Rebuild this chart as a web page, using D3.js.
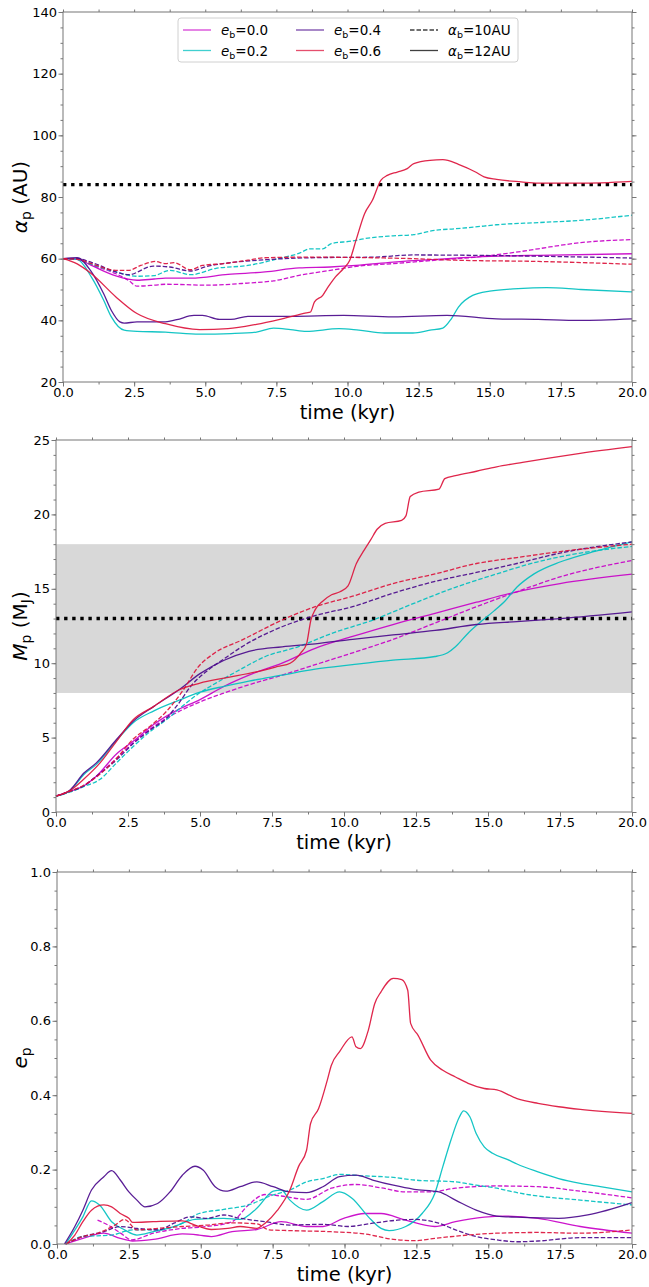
<!DOCTYPE html>
<html>
<head>
<meta charset="utf-8">
<title>Planet evolution</title>
<script src="https://cdnjs.cloudflare.com/ajax/libs/d3/7.8.5/d3.min.js"></script>
<style>
  body { margin: 0; background: #fff; }
  text { font-family: "DejaVu Sans", sans-serif; fill: #000; }
</style>
</head>
<body>
<script>
// eccentricities of the binary and binary separations
const eccLabels = ["0.0", "0.2", "0.4", "0.6"];
const eccColors = ["#c800c8", "#00c0c0", "#4b0a8c", "#dc143c"];
const sepLabels = ["10AU", "12AU"];

const xTicks = [0, 2.5, 5, 7.5, 10, 12.5, 15, 17.5, 20];

// ---- semi-major axis a_p (AU), [time kyr, value] ----
const a_00_12 = [[0,60],[0.5,59.8],[1,57.8],[1.86,54.4],[2.6,53],[3.2,53.4],[3.6,53.7],[4.5,53.7],[5.8,54.9],[7.1,55.7],[8.3,57],[9.4,57.3],[10.3,57.8],[11.6,58.9],[13.1,59.8],[14.5,60.5],[16.7,61.1],[20,61.6]];
const a_00_10 = [[0,60],[0.5,59.8],[1,58],[1.86,55.1],[2.3,53],[2.6,51.1],[3.2,51.4],[3.6,51.7],[5.1,51.4],[6.5,52.1],[7.4,52.8],[8.3,54.6],[9.4,56.2],[10.4,57.6],[11.6,58.4],[13.1,59.5],[14.5,60.5],[16,62.2],[16.7,63.2],[18.2,65.2],[20,66.2]];
const a_02_12 = [[0,60],[0.5,59.8],[1,54],[1.43,46.5],[1.7,41.1],[2.15,36.8],[2.6,36.4],[3.6,36.2],[4.8,35.5],[5.9,35.7],[6.8,36.2],[7.4,37.5],[8,37],[8.55,36.4],[9.7,37.3],[10.4,36.8],[11.3,35.9],[12.3,35.9],[12.9,36.8],[13.35,37.5],[13.65,40.5],[13.9,44.3],[14.4,48.1],[15,49.5],[16,50.3],[17,50.6],[18.2,50],[20,49.2]];
const a_02_10 = [[0,60],[0.5,59.8],[1,58.2],[1.86,55.7],[2.6,54.3],[3.2,54.5],[3.75,56.2],[4.5,54.8],[5.35,56.8],[6.5,57.8],[7.7,60.3],[8.26,61.6],[8.7,63.2],[9.13,63.2],[9.43,64.9],[10.15,65.7],[10.6,66.5],[11.6,67.4],[12.33,67.8],[13.06,69.2],[13.8,69.7],[14.5,70.3],[15.24,71],[16.7,71.7],[18.15,72.4],[20,74.1]];
const a_04_12 = [[0,60],[0.5,60.3],[1,55.7],[1.43,48.6],[1.7,43.2],[2,39.5],[2.15,39.1],[2.6,39.5],[3.6,39.5],[4,40.2],[4.6,41.6],[4.9,41.6],[5.5,40.3],[5.9,40.3],[6.5,41.3],[8,41.3],[9.86,41.6],[11.6,41.1],[13.5,41.6],[15.24,40.5],[16.7,40.3],[18.15,40],[20,40.5]];
const a_04_10 = [[0,60],[0.5,60],[1,58.8],[1.86,55.7],[2.3,54.8],[3.17,57.6],[3.75,57.3],[4.48,56],[5.06,57.5],[5.8,58.6],[7.2,59.7],[8.7,60.3],[10.9,60.5],[12.3,61.2],[15.2,61],[20,60.2]];
const a_06_12 = [[0,60],[0.5,58.3],[1,55.1],[1.86,47.6],[2.6,42.2],[3.6,38.9],[4.8,37],[5.8,37.3],[6.8,38.7],[7.7,40.5],[8.55,42.4],[8.7,42.7],[8.84,46],[9.13,48.1],[9.28,50.3],[9.4,51.9],[9.57,54],[9.86,56.8],[10.08,59.5],[10.3,66],[10.6,74.6],[10.88,79],[11.17,85.4],[11.4,87],[11.75,88.1],[12.1,89.2],[12.33,90.8],[12.9,91.9],[13.35,92.1],[13.9,90.6],[14.5,88.1],[14.8,86.5],[15.24,85.7],[16.1,84.9],[16.7,84.5],[18.15,84.5],[20,85.1]];
const a_06_10 = [[0,60],[0.5,59.8],[1,58.4],[1.86,56.2],[2.3,56.2],[2.73,57.8],[3.24,59.1],[3.6,58.4],[3.9,58.7],[4.48,56.4],[4.9,57.8],[5.64,58.4],[6.5,59.5],[7.1,60.3],[8.7,60.5],[10.9,60.3],[12.3,60],[13.8,59.5],[16.7,59.1],[20,58.2]];

// ---- planet mass M_p (M_J) ----
const m_00_12 = [[0,1.07],[0.5,1.4],[0.96,1.75],[1.4,2.4],[2.1,3.9],[2.68,4.75],[3.4,5.9],[4.26,6.9],[5,7.55],[5.84,8.45],[6.7,9.2],[7.85,10],[9,11],[10.3,11.8],[11.7,12.6],[13.16,13.35],[14.6,14.1],[16,14.8],[17.5,15.35],[20,15.98]];
const m_00_10 = [[0,1.07],[0.5,1.4],[0.96,1.75],[1.4,2.4],[2.1,3.6],[2.68,4.65],[3.4,5.75],[4.26,6.75],[5,7.4],[5.84,8],[6.7,8.55],[7.85,9.2],[9,9.9],[10.3,10.7],[11.7,11.6],[13.16,12.7],[14.6,13.8],[16,14.8],[17.5,15.8],[20,16.9]];
const m_02_12 = [[0,1.07],[0.5,1.45],[0.96,2.5],[1.4,3.2],[2.1,4.8],[2.68,6],[3.4,6.8],[4.26,7.5],[5,8.05],[5.84,8.45],[6.7,8.8],[7.85,9.2],[9,9.6],[10.3,9.9],[11.7,10.2],[13.16,10.45],[13.6,10.7],[13.87,11.1],[14.3,12],[14.7,12.7],[15.2,13.5],[15.6,14.2],[16,15.1],[16.6,16],[17.5,16.8],[18.5,17.4],[20,18.15]];
const m_02_10 = [[0,1.07],[0.5,1.35],[0.96,1.7],[1.53,2.2],[2.1,3.3],[2.68,4.4],[3.26,5.4],[3.83,6.2],[4.26,6.9],[4.84,7.8],[5.55,8.66],[6.27,9.44],[7.27,10.45],[8.4,11.1],[9.57,12],[11,12.9],[12.4,14],[13.87,15.1],[15.3,16],[16.7,16.8],[18.2,17.4],[20,17.85]];
const m_04_12 = [[0,1.07],[0.5,1.5],[0.96,2.6],[1.4,3.3],[2.1,4.87],[2.68,6.1],[3.4,7.1],[4.26,8.2],[5,9.3],[5.84,10.2],[6.7,10.8],[7.85,11.1],[9,11.3],[10.3,11.6],[11.7,11.9],[13.16,12.2],[14.6,12.6],[16,12.8],[17.5,13],[20,13.45]];
const m_04_10 = [[0,1.07],[0.5,1.4],[0.96,1.75],[1.4,2.4],[2.1,3.5],[2.68,4.6],[3.26,5.5],[3.83,6.3],[4.26,7.3],[4.7,8.5],[5.26,9.5],[5.84,10.3],[6.45,11.1],[7.85,12.45],[9,13.2],[10.3,13.8],[11.7,14.7],[13.16,15.5],[14.6,16.1],[16,16.7],[17.5,17.4],[20,18.15]];
const m_06_12 = [[0,1.07],[0.53,1.5],[0.96,2.2],[1.53,3.3],[2.1,4.75],[2.68,6.2],[3.4,7.1],[4.26,8.2],[5,8.66],[5.84,9],[7,9.44],[7.7,9.78],[8.13,10],[8.5,10.7],[8.7,11.3],[8.85,12.9],[9,13.6],[9.28,14.2],[9.57,14.6],[9.86,14.8],[10.14,15.2],[10.43,16.7],[10.7,17.6],[10.93,18.3],[11.15,19],[11.43,19.4],[12,19.6],[12.15,19.9],[12.3,21.2],[12.6,21.5],[13.3,21.7],[13.5,22.4],[13.87,22.6],[14.6,22.9],[15.3,23.2],[16.2,23.5],[17.17,23.8],[18.2,24.1],[20,24.55]];
const m_06_10 = [[0,1.07],[0.5,1.4],[0.96,1.8],[1.5,2.5],[2.1,3.6],[2.68,4.9],[3.26,5.75],[3.83,6.75],[4.42,8.2],[4.94,9.75],[5.52,10.7],[6.45,11.55],[7.85,12.9],[9,13.8],[10.3,14.5],[11.7,15.35],[13.16,16],[14.6,16.7],[16,17.1],[17.5,17.5],[20,18]];

// ---- planet eccentricity e_p ----
const e_00_12 = [[0.3,0],[0.9,0.015],[1.63,0.029],[2.2,0.015],[2.63,0.008],[3.35,0.0125],[4.36,0.027],[4.94,0.024],[5.37,0.02],[6.09,0.033],[6.95,0.039],[7.8,0.06],[8.68,0.047],[9.25,0.047],[9.97,0.069],[10.7,0.082],[11.27,0.082],[12.13,0.064],[13.14,0.047],[13.86,0.06],[14.86,0.072],[15.58,0.075],[16.73,0.069],[18.2,0.047],[20,0.029]];
const e_00_10 = [[1.41,0.064],[1.8,0.05],[2.2,0.03],[2.6,0.011],[3.35,0.029],[4.36,0.042],[5.22,0.047],[6.09,0.06],[6.66,0.105],[7.24,0.133],[7.8,0.129],[8.68,0.12],[9.54,0.15],[10.4,0.16],[11.27,0.151],[12.13,0.14],[13,0.14],[13.86,0.15],[15.3,0.156],[16.73,0.154],[18.2,0.142],[20,0.124]];
const e_02_12 = [[0.3,0],[0.9,0.073],[1.2,0.116],[1.48,0.105],[1.9,0.06],[2.35,0.038],[2.78,0.024],[3.35,0.033],[4.07,0.047],[4.8,0.066],[5.8,0.069],[6.37,0.066],[6.95,0.096],[7.52,0.142],[7.8,0.145],[8.1,0.118],[8.68,0.091],[9.25,0.114],[9.83,0.14],[10.26,0.123],[10.83,0.073],[11.27,0.042],[11.55,0.036],[12.13,0.047],[12.7,0.082],[13.14,0.136],[13.42,0.208],[13.7,0.279],[14,0.342],[14.14,0.358],[14.36,0.342],[14.58,0.297],[14.86,0.261],[15.15,0.244],[15.7,0.226],[16,0.215],[16.73,0.194],[17.45,0.176],[18.2,0.163],[18.9,0.154],[20,0.14]];
const e_02_10 = [[0.3,0],[0.9,0.02],[1.9,0.024],[2.63,0.038],[3.5,0.038],[4.36,0.056],[4.94,0.082],[5.8,0.093],[6.66,0.105],[7.52,0.132],[8.1,0.145],[8.68,0.167],[9.25,0.176],[9.83,0.187],[10.7,0.183],[11.7,0.179],[12.42,0.172],[13.86,0.167],[14.58,0.158],[15.3,0.15],[16,0.138],[16.73,0.129],[18.2,0.118],[20,0.105]];
const e_04_12 = [[0.26,0],[0.62,0.047],[0.9,0.091],[1.2,0.145],[1.63,0.181],[1.9,0.197],[2.2,0.172],[2.5,0.14],[2.78,0.118],[3.06,0.1],[3.5,0.109],[3.93,0.14],[4.36,0.185],[4.8,0.209],[5.08,0.199],[5.5,0.154],[5.87,0.142],[6.37,0.154],[6.95,0.167],[7.52,0.154],[8.1,0.14],[8.68,0.138],[9.25,0.154],[9.83,0.181],[10.4,0.185],[10.98,0.172],[11.7,0.158],[12.42,0.147],[13.28,0.14],[13.86,0.118],[14.58,0.091],[15.3,0.075],[16,0.072],[17.45,0.069],[18.46,0.078],[20,0.111]];
const e_04_10 = [[0.3,0],[0.9,0.02],[1.63,0.033],[2.2,0.047],[2.78,0.042],[3.5,0.038],[4.07,0.056],[4.65,0.073],[5.22,0.069],[5.8,0.078],[6.37,0.069],[7.24,0.06],[8.1,0.051],[9.25,0.053],[10.12,0.047],[10.98,0.056],[11.84,0.064],[12.42,0.066],[13.28,0.056],[13.86,0.038],[14.58,0.02],[15.3,0.011],[16,0.006],[16.73,0.008],[18.2,0.017],[20,0.017]];
const e_06_12 = [[0.33,0],[0.62,0.024],[0.9,0.06],[1.2,0.091],[1.63,0.105],[1.9,0.1],[2.2,0.082],[2.5,0.069],[2.63,0.058],[3.35,0.06],[4.36,0.062],[4.8,0.051],[5.37,0.039],[5.94,0.042],[6.37,0.047],[6.95,0.042],[7.24,0.056],[7.67,0.091],[8.1,0.145],[8.4,0.208],[8.68,0.252],[8.82,0.324],[9.1,0.364],[9.4,0.44],[9.54,0.48],[9.83,0.517],[10.26,0.557],[10.4,0.53],[10.55,0.525],[10.83,0.575],[11.05,0.646],[11.27,0.678],[11.7,0.714],[11.99,0.711],[12.2,0.682],[12.3,0.593],[12.56,0.561],[13,0.494],[13.42,0.467],[13.86,0.449],[14.3,0.432],[14.86,0.418],[15.3,0.414],[16,0.391],[16.73,0.378],[17.45,0.369],[18.2,0.362],[20,0.351]];
const e_06_10 = [[0.3,0],[0.9,0.02],[1.45,0.03],[2,0.05],[2.35,0.066],[2.78,0.038],[3.5,0.042],[4.36,0.047],[5.22,0.051],[6.09,0.057],[6.95,0.054],[7.38,0.038],[8.1,0.036],[9.54,0.033],[10.7,0.027],[11.7,0.0125],[12.42,0.009],[13.14,0.015],[13.86,0.021],[15.3,0.029],[16.73,0.031],[18.2,0.029],[20,0.038]];

// runs: colour index, separation (dashed = 10AU)
const runs = [
    {c: 0, dashed: false, a: a_00_12, m: m_00_12, e: e_00_12},
    {c: 0, dashed: true,  a: a_00_10, m: m_00_10, e: e_00_10},
    {c: 1, dashed: false, a: a_02_12, m: m_02_12, e: e_02_12},
    {c: 1, dashed: true,  a: a_02_10, m: m_02_10, e: e_02_10},
    {c: 2, dashed: false, a: a_04_12, m: m_04_12, e: e_04_12},
    {c: 2, dashed: true,  a: a_04_10, m: m_04_10, e: e_04_10},
    {c: 3, dashed: false, a: a_06_12, m: m_06_12, e: e_06_12},
    {c: 3, dashed: true,  a: a_06_10, m: m_06_10, e: e_06_10}
];

const W = 649, H = 1287;
const svg = d3.select("body").append("svg")
    .attr("width", W).attr("height", H);

const panels = [
    {key: "a", left: 63, right: 632, top: 12, bottom: 382,
     domain: [20, 140], major: d3.range(20, 141, 20), minorStep: 5, fmt: d3.format("d"),
     dotted: 84, ylab: "a"},
    {key: "m", left: 56, right: 632, top: 440, bottom: 812,
     domain: [0, 25], major: d3.range(0, 26, 5), minorStep: 1, fmt: d3.format("d"),
     dotted: 13, band: [8, 18], ylab: "m"},
    {key: "e", left: 57, right: 632, top: 872, bottom: 1244,
     domain: [0, 1], major: [0, 0.2, 0.4, 0.6, 0.8, 1.0], minorStep: 0.05, fmt: d3.format(".1f"),
     ylab: "e"}
];

panels.forEach(function(p) {
    const x = d3.scaleLinear().domain([0, 20]).range([p.left, p.right]);
    const y = d3.scaleLinear().domain(p.domain).range([p.bottom, p.top]);
    const g = svg.append("g");

    // grey band
    if (p.band) {
        g.append("rect")
            .attr("x", p.left).attr("width", p.right - p.left)
            .attr("y", y(p.band[1])).attr("height", y(p.band[0]) - y(p.band[1]))
            .attr("fill", "#d8d8d8");
    }

    // dotted limit
    if (p.dotted !== undefined) {
        g.append("line")
            .attr("x1", p.left).attr("x2", p.right)
            .attr("y1", y(p.dotted)).attr("y2", y(p.dotted))
            .attr("stroke", "#000").attr("stroke-width", 3.4)
            .attr("stroke-dasharray", "3.4,4.7");
    }

    // curves
    const line = d3.line()
        .x(function(d) { return x(d[0]); })
        .y(function(d) { return y(d[1]); })
        .curve(d3.curveMonotoneX);

    runs.forEach(function(r) {
        g.append("path")
            .attr("d", line(r[p.key]))
            .attr("fill", "none")
            .attr("stroke", eccColors[r.c])
            .attr("stroke-opacity", 0.92)
            .attr("stroke-width", 1.3)
            .attr("stroke-dasharray", r.dashed ? "4.5,2" : null);
    });

    // axes: major + minor ticks on all four sides
    const xMinor = d3.range(0, 20.01, 1.25);
    const yMinor = d3.range(p.domain[0], p.domain[1] + 1e-9, p.minorStep);
    const h = p.bottom - p.top, w = p.right - p.left;

    function styleAx(sel) {
        sel.select(".domain").remove();
        sel.selectAll("line").attr("stroke", "#777");
        sel.selectAll("text").style("font-size", "13px").attr("fill", "#000");
    }

    g.append("g").attr("transform", "translate(0," + p.bottom + ")")
        .call(d3.axisBottom(x).tickValues(xMinor).tickSize(2.5).tickFormat(""))
        .call(styleAx);
    g.append("g").attr("transform", "translate(0," + p.bottom + ")")
        .call(d3.axisBottom(x).tickValues(xTicks).tickSize(4.5).tickPadding(1)
            .tickFormat(d3.format(".1f")))
        .call(styleAx);
    g.append("g").attr("transform", "translate(0," + p.top + ")")
        .call(d3.axisTop(x).tickValues(xMinor).tickSize(2.5).tickFormat(""))
        .call(styleAx);

    g.append("g").attr("transform", "translate(" + p.left + ",0)")
        .call(d3.axisLeft(y).tickValues(yMinor).tickSize(2.5).tickFormat(""))
        .call(styleAx);
    g.append("g").attr("transform", "translate(" + p.left + ",0)")
        .call(d3.axisLeft(y).tickValues(p.major).tickSize(4.5).tickPadding(1.5).tickFormat(p.fmt))
        .call(styleAx);
    g.append("g").attr("transform", "translate(" + p.right + ",0)")
        .call(d3.axisRight(y).tickValues(yMinor).tickSize(2.5).tickFormat(""))
        .call(styleAx);
    g.append("g").attr("transform", "translate(" + p.right + ",0)")
        .call(d3.axisRight(y).tickValues(p.major).tickSize(4.5).tickFormat(""))
        .call(styleAx);

    // frame
    g.append("rect")
        .attr("x", p.left).attr("y", p.top).attr("width", w).attr("height", h)
        .attr("fill", "none").attr("stroke", "#777").attr("stroke-width", 1);

    // x label
    g.append("text")
        .attr("x", (p.left + p.right) / 2).attr("y", p.bottom + 36.5)
        .attr("text-anchor", "middle").style("font-size", "19.5px")
        .text("time (kyr)");

    // y label
    const yl = g.append("text")
        .attr("transform", "translate(27," + (p.top + p.bottom) / 2 + ") rotate(-90)")
        .attr("text-anchor", "middle").style("font-size", "20px");
    if (p.ylab === "a") {
        yl.append("tspan").style("font-style", "italic").text("α");
        yl.append("tspan").attr("dy", 4).style("font-size", "14px").text("p");
        yl.append("tspan").attr("dy", -4).text(" (AU)");
    } else if (p.ylab === "m") {
        yl.append("tspan").style("font-style", "italic").text("M");
        yl.append("tspan").attr("dy", 4).style("font-size", "14px").text("p");
        yl.append("tspan").attr("dy", -4).text(" (M");
        yl.append("tspan").attr("dy", 4).style("font-size", "14px").text("J");
        yl.append("tspan").attr("dy", -4).text(")");
    } else {
        yl.append("tspan").style("font-style", "italic").text("e");
        yl.append("tspan").attr("dy", 4).style("font-size", "14px").text("p");
    }
});

// legend in the top panel
const leg = svg.append("g");
leg.append("rect")
    .attr("x", 178).attr("y", 18).attr("width", 340).attr("height", 44)
    .attr("rx", 3).attr("fill", "#fff").attr("fill-opacity", 0.85)
    .attr("stroke", "#d0d0d0");

const legItems = [
    {col: 0, row: 0, color: eccColors[0], dash: null, sym: "e", val: eccLabels[0]},
    {col: 0, row: 1, color: eccColors[1], dash: null, sym: "e", val: eccLabels[1]},
    {col: 1, row: 0, color: eccColors[2], dash: null, sym: "e", val: eccLabels[2]},
    {col: 1, row: 1, color: eccColors[3], dash: null, sym: "e", val: eccLabels[3]},
    {col: 2, row: 0, color: "#000", dash: "4.5,2", sym: "α", val: sepLabels[0]},
    {col: 2, row: 1, color: "#000", dash: null, sym: "α", val: sepLabels[1]}
];
const colX = [183, 296, 410];
const rowY = [30, 50.5];

legItems.forEach(function(it) {
    const lx = colX[it.col], ly = rowY[it.row];
    leg.append("line")
        .attr("x1", lx).attr("x2", lx + 28).attr("y1", ly).attr("y2", ly)
        .attr("stroke", it.color).attr("stroke-width", 1.3).attr("stroke-opacity", 0.75)
        .attr("stroke-dasharray", it.dash);
    const t = leg.append("text")
        .attr("x", lx + 38).attr("y", ly + 5)
        .style("font-size", "13.5px");
    t.append("tspan").style("font-style", "italic").text(it.sym);
    t.append("tspan").attr("dy", 3).style("font-size", "9.5px").text("b");
    t.append("tspan").attr("dy", -3).text("=" + it.val);
});
</script>
</body>
</html>
